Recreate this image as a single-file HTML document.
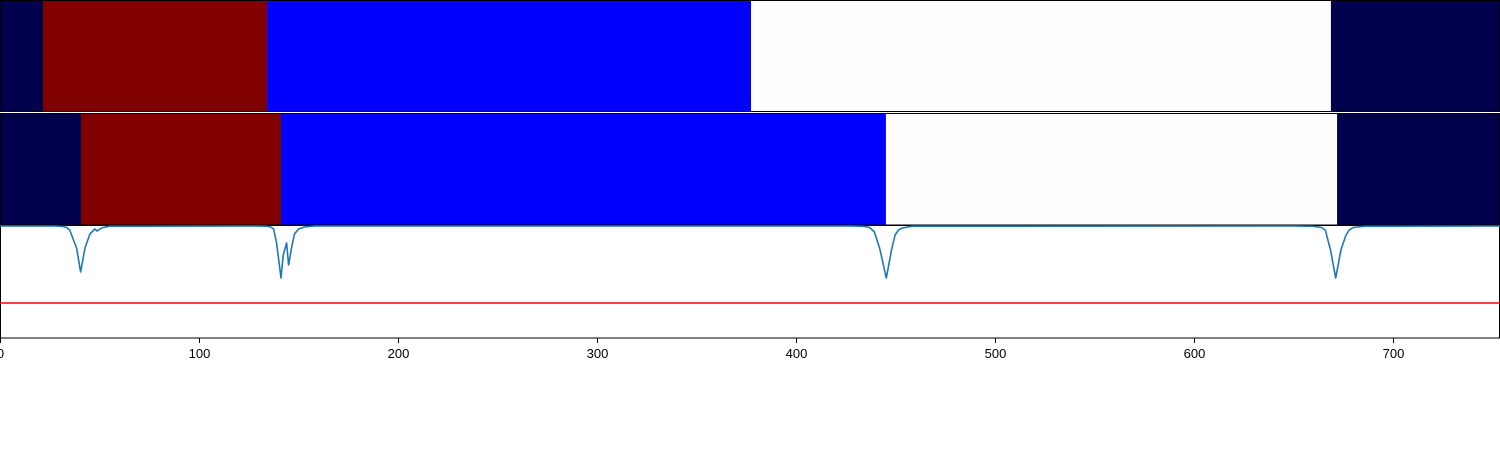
<!DOCTYPE html>
<html><head><meta charset="utf-8"><style>
html,body{margin:0;padding:0;background:#fff;}
svg{display:block;font-family:"Liberation Sans","DejaVu Sans",sans-serif;}
</style></head><body>
<svg id="c" width="1500" height="450"></svg>
<script>
const topBounds=[0,21.6,134.2,377.4,668.8,753.8];
const topColors=["#00004c","#800000","#0000ff","#fffdfd","#00004c"];
const midBounds=[0,40.7,141.2,445.2,671.9,753.8];
const midColors=["#00004c","#800000","#0000ff","#fffdfd","#00004c"];
const curveX=[0,28,31.7,33.5,35,38.5,40.5,42.7,45.2,47.7,48.8,51,55,128,134,136,137.5,139,141.2,142.3,144,145,146.5,148,150,153,158,428,434,437,439.4,442,445.4,448,449.8,451.5,453.4,458.5,650,660,664,666,668.6,671.2,673.8,676.4,678,680,686,753.8];
const curveY=[1,1,0.995,0.985,0.96,0.78,0.54,0.78,0.92,0.97,0.95,0.98,0.998,1,0.998,0.99,0.97,0.83,0.48,0.71,0.83,0.61,0.78,0.92,0.97,0.99,1,1,0.997,0.985,0.94,0.78,0.48,0.76,0.91,0.96,0.98,0.998,1,0.997,0.985,0.96,0.76,0.48,0.76,0.91,0.96,0.985,0.998,1];
const threshold=0.23;
const xTicks=[0,100,200,300,400,500,600,700];
const NS="http://www.w3.org/2000/svg";
const svg=document.getElementById('c');
const X=v=>v*1.99;
const Y=v=>226+(1-v)*100;
function el(t,a){const e=document.createElementNS(NS,t);for(const k in a)e.setAttribute(k,a[k]);svg.appendChild(e);return e;}
function row(b,c,y0,h,name){
 for(let i=0;i<c.length;i++){
  const r=el('rect',{x:X(b[i]),y:y0,width:X(b[i+1])-X(b[i]),height:h,fill:c[i]});
  
  
 }
 const f=el('rect',{x:0.5,y:y0+0.5,width:1499,height:h-1,fill:'none',stroke:'#000','stroke-width':1});
 
 
}
row(topBounds,topColors,0,112,'top-row');
row(midBounds,midColors,113,112.5,'middle-row');
const bf=el('rect',{x:0.5,y:225.5,width:1499,height:112.5,fill:'none',stroke:'#000','stroke-width':1});


const th=el('line',{x1:0,x2:1500,y1:Y(threshold),y2:Y(threshold),stroke:'#ff0000','stroke-width':1.5});


let d='';curveX.forEach((x,i)=>{d+=(i?'L':'M')+X(x).toFixed(1)+','+Y(curveY[i]).toFixed(1);});
const p=el('path',{d:d,fill:'none',stroke:'#1f77b4','stroke-width':1.6,'stroke-linejoin':'round'});


xTicks.forEach(t=>{
 const l=el('line',{x1:X(t)+0.5,x2:X(t)+0.5,y1:338,y2:343,stroke:'#000','stroke-width':1});
 
 
 const tx=el('text',{x:X(t)+0.5,y:358,'font-size':13,'text-anchor':'middle',fill:'#000'});
 tx.textContent=t;
 
 
});
</script>
</body></html>
